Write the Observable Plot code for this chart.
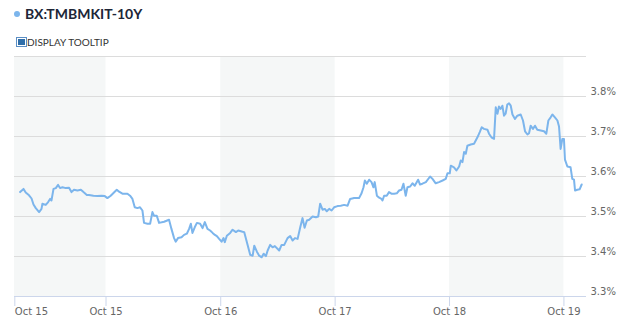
<!DOCTYPE html>
<html>
<head>
<meta charset="utf-8">
<script src="https://cdn.jsdelivr.net/npm/d3@7"></script>
<script src="https://cdn.jsdelivr.net/npm/@observablehq/plot@0.6"></script>
<style>
  html, body { margin: 0; padding: 0; background: #fff; }
  #wrap { position: relative; width: 634px; height: 328px; overflow: hidden; }
  #chart { position: absolute; left: 0; top: 0; }
  .dot { position: absolute; left: 14px; top: 11px; width: 6px; height: 6px; border-radius: 50%; background: #7cb5ec; }
  .title { position: absolute; left: 25px; top: 7px; font: bold 14px/14px Lato, sans-serif; color: #202637; white-space: nowrap; }
  .cb { position: absolute; left: 16px; top: 37px; width: 7px; height: 6px; border: 1px solid #5b8ec4; padding: 1px; background: #fff; }
  .cbi { width: 7px; height: 6px; background: #2f6ea9; }
  .tt { position: absolute; left: 27px; top: 37px; font: 10px/10px Lato, sans-serif; color: #333; white-space: nowrap; }
</style>
</head>
<body>
<div id="wrap">
  <div id="chart"></div>
  <div class="dot"></div>
  <div class="title">BX:TMBMKIT-10Y</div>
  <div class="cb"><div class="cbi"></div></div>
  <div class="tt">DISPLAY TOOLTIP</div>
</div>
<script>
// Decimal-year dates
const years = [
  2014.997, 2015.027, 2015.046, 2015.075, 2015.097, 2015.114, 2015.134, 2015.163, 2015.184, 2015.192,
  2015.221, 2015.242, 2015.259, 2015.271, 2015.289, 2015.309, 2015.329, 2015.346, 2015.367, 2015.396,
  2015.425, 2015.446, 2015.468, 2015.498, 2015.528, 2015.551, 2015.580, 2015.599, 2015.638, 2015.673,
  2015.708, 2015.737, 2015.760, 2015.789, 2015.824, 2015.842, 2015.862, 2015.891, 2015.935, 2015.958,
  2015.979, 2015.999, 2016.022, 2016.045, 2016.066, 2016.080, 2016.110, 2016.133, 2016.153, 2016.167,
  2016.191, 2016.211, 2016.255, 2016.298, 2016.319, 2016.342, 2016.356, 2016.376, 2016.407, 2016.429,
  2016.453, 2016.473, 2016.488, 2016.502, 2016.522, 2016.541, 2016.569, 2016.590, 2016.610, 2016.633,
  2016.656, 2016.678, 2016.698, 2016.715, 2016.735, 2016.756, 2016.773, 2016.784, 2016.802, 2016.831,
  2016.852, 2016.881, 2016.901, 2016.939, 2016.953, 2016.983, 2017.006, 2017.027, 2017.041, 2017.064,
  2017.084, 2017.106, 2017.123, 2017.143, 2017.158, 2017.180, 2017.201, 2017.221, 2017.259, 2017.280,
  2017.303, 2017.332, 2017.355, 2017.376, 2017.397, 2017.420, 2017.443, 2017.463, 2017.481, 2017.501,
  2017.521, 2017.551, 2017.580, 2017.600, 2017.617, 2017.638, 2017.658, 2017.675, 2017.696, 2017.717,
  2017.739, 2017.769, 2017.797, 2017.827, 2017.857, 2017.879, 2017.914, 2017.957, 2017.979, 2017.996,
  2018.008, 2018.025, 2018.045, 2018.066, 2018.083, 2018.094, 2018.113, 2018.133, 2018.153, 2018.162,
  2018.176, 2018.199, 2018.219, 2018.240, 2018.264, 2018.287, 2018.307, 2018.328, 2018.345, 2018.365,
  2018.380, 2018.404, 2018.424, 2018.444, 2018.473, 2018.490, 2018.511, 2018.541, 2018.578, 2018.599,
  2018.627, 2018.656, 2018.687, 2018.715, 2018.730, 2018.750, 2018.759, 2018.787, 2018.808, 2018.832,
  2018.846, 2018.861, 2018.875, 2018.890, 2018.904, 2018.933, 2018.962, 2018.992, 2019.012, 2019.029,
  2019.049, 2019.079, 2019.093, 2019.117, 2019.137, 2019.152, 2019.167, 2019.180, 2019.195, 2019.210,
  2019.224, 2019.238, 2019.253, 2019.268, 2019.283, 2019.298, 2019.320, 2019.341, 2019.370, 2019.390,
  2019.408, 2019.429, 2019.443, 2019.457, 2019.477, 2019.495, 2019.515, 2019.545, 2019.574, 2019.594,
  2019.612, 2019.632, 2019.647, 2019.669, 2019.691, 2019.705, 2019.719, 2019.734, 2019.748, 2019.757,
  2019.778, 2019.806, 2019.821, 2019.836, 2019.845, 2019.865, 2019.885, 2019.903
];
// Yield values in percent
const yields = [
  3.561, 3.569, 3.560, 3.553, 3.545, 3.530, 3.521, 3.511, 3.519, 3.532,
  3.529, 3.536, 3.544, 3.540, 3.569, 3.571, 3.579, 3.571, 3.573, 3.571,
  3.572, 3.561, 3.567, 3.565, 3.567, 3.561, 3.554, 3.554, 3.552, 3.551,
  3.552, 3.551, 3.546, 3.552, 3.562, 3.567, 3.562, 3.557, 3.557, 3.552,
  3.544, 3.523, 3.521, 3.523, 3.515, 3.484, 3.482, 3.482, 3.511, 3.502,
  3.502, 3.484, 3.487, 3.492, 3.469, 3.446, 3.437, 3.446, 3.448, 3.454,
  3.457, 3.469, 3.482, 3.459, 3.473, 3.484, 3.482, 3.471, 3.486, 3.469,
  3.465, 3.459, 3.454, 3.451, 3.444, 3.437, 3.446, 3.436, 3.452, 3.459,
  3.467, 3.461, 3.465, 3.462, 3.461, 3.429, 3.404, 3.402, 3.427, 3.412,
  3.402, 3.398, 3.407, 3.401, 3.415, 3.429, 3.423, 3.426, 3.415, 3.429,
  3.429, 3.446, 3.451, 3.440, 3.446, 3.444, 3.473, 3.496, 3.472, 3.490,
  3.492, 3.500, 3.498, 3.500, 3.532, 3.517, 3.519, 3.513, 3.519, 3.515,
  3.523, 3.526, 3.527, 3.529, 3.527, 3.544, 3.546, 3.546, 3.558, 3.573,
  3.590, 3.582, 3.592, 3.586, 3.573, 3.586, 3.552, 3.547, 3.544, 3.540,
  3.552, 3.552, 3.561, 3.557, 3.557, 3.558, 3.565, 3.567, 3.582, 3.552,
  3.573, 3.575, 3.583, 3.577, 3.592, 3.580, 3.582, 3.586, 3.600, 3.594,
  3.583, 3.586, 3.590, 3.594, 3.608, 3.608, 3.627, 3.623, 3.615, 3.625,
  3.640, 3.636, 3.661, 3.657, 3.677, 3.680, 3.682, 3.698, 3.711, 3.723,
  3.719, 3.717, 3.707, 3.697, 3.694, 3.773, 3.757, 3.775, 3.769, 3.777,
  3.752, 3.757, 3.780, 3.783, 3.777, 3.755, 3.744, 3.752, 3.755, 3.740,
  3.713, 3.705, 3.708, 3.727, 3.719, 3.727, 3.717, 3.715, 3.713, 3.707,
  3.740, 3.748, 3.755, 3.748, 3.740, 3.725, 3.669, 3.694, 3.694, 3.642,
  3.625, 3.623, 3.594, 3.592, 3.565, 3.567, 3.568, 3.580
];

const xDomain = ["2014-12-13", "2019-12-12"];
const xTickDates = ["2014-12-14", "2015-10-01", "2016-10-01", "2017-10-01", "2018-10-01", "2019-10-01"];
const xTickLabels = ["Oct 15", "Oct 15", "Oct 16", "Oct 17", "Oct 18", "Oct 19"];
const bandStarts = ["2014-12-13", "2016-10-01", "2018-10-01"];
const bandEnds = ["2015-10-01", "2017-10-01", "2019-10-01"];
const yDomain = [3.3, 3.9];
const yGrid = [3.4, 3.5, 3.6, 3.7, 3.8, 3.9];
const yTicks = [3.3, 3.4, 3.5, 3.6, 3.7, 3.8];
const yTickLabels = ["3.3%", "3.4%", "3.5%", "3.6%", "3.7%", "3.8%"];

function toDate(y) {
  const Y = Math.floor(y);
  const a = Date.UTC(Y, 0, 1), b = Date.UTC(Y + 1, 0, 1);
  return new Date(a + (y - Y) * (b - a));
}
const data = years.map((y, i) => ({date: toDate(y), value: yields[i]}));
const ticks = xTickDates.map(s => new Date(s));
const tickRows = ticks.map((d, i) => ({date: d, label: xTickLabels[i]}));
const bands = bandStarts.map((s, i) => ({start: new Date(s), end: new Date(bandEnds[i])}));
const yRows = yTicks.map((v, i) => ({v, label: yTickLabels[i]}));

const chart = Plot.plot({
  width: 634,
  height: 328,
  marginTop: 56,
  marginBottom: 32,
  marginLeft: 14,
  marginRight: 48,
  x: {type: "utc", domain: xDomain.map(s => new Date(s)), axis: null},
  y: {domain: yDomain, axis: null},
  style: {fontFamily: "DejaVu Sans", fontSize: "10px", color: "#666", background: "transparent", overflow: "visible"},
  marks: [
    Plot.rect(bands, {x1: "start", x2: "end", fill: "#f5f7f7"}),
    Plot.ruleY(yGrid, {stroke: "#dcdcdc"}),
    Plot.ruleY([yDomain[0]], {stroke: "#ccd6eb"}),
    Plot.axisX({ticks: ticks, tickSize: 10, tickFormat: () => "", stroke: "#ccd6eb"}),
    Plot.text(tickRows.slice(0, 1), {x: "date", text: "label", frameAnchor: "bottom", lineAnchor: "top", textAnchor: "start", dy: 11, fill: "#666"}),
    Plot.text(tickRows.slice(1), {x: "date", text: "label", frameAnchor: "bottom", lineAnchor: "top", textAnchor: "middle", dy: 11, fill: "#666"}),
    Plot.text(yRows, {y: "v", text: "label", frameAnchor: "right", textAnchor: "start", lineAnchor: "middle", dx: 4, dy: -5, fill: "#666"}),
    Plot.line(data, {x: "date", y: "value", stroke: "#7cb5ec", strokeWidth: 2})
  ]
});
document.getElementById("chart").appendChild(chart);
</script>
</body>
</html>
